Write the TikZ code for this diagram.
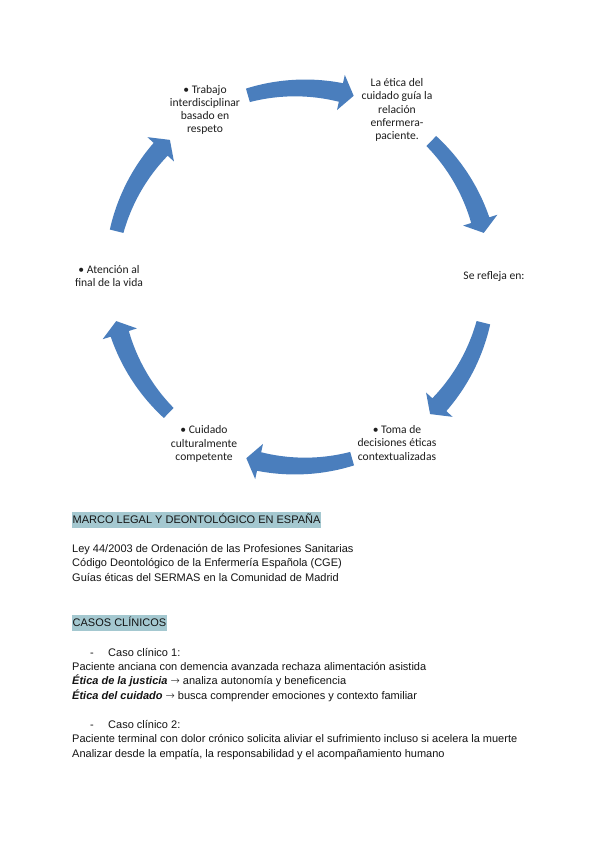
\documentclass[tikz,border=0pt]{standalone}
\usepackage{fontspec}
\setmainfont{Liberation Sans}
\newfontfamily\carlito{Carlito}
\newfontfamily\dejavu{DejaVu Sans ExtraLight}
\usetikzlibrary{calc}
\definecolor{arrowblue}{RGB}{74,126,189}
\definecolor{hl}{RGB}{164,200,208}
\definecolor{txt}{RGB}{20,20,20}
\definecolor{dtxt}{RGB}{30,30,30}
\newcommand{\rarr}{{\dejavu\fontsize{11}{13}\selectfont →}}
\begin{document}
\begin{tikzpicture}[x=1pt,y=1pt,
  lbl/.style={font=\carlito\fontsize{11.6}{13.2}\selectfont, align=center, text=dtxt, inner sep=0pt},
  body/.style={anchor=base west, inner sep=0pt, font=\fontsize{11}{13}\selectfont, text=txt},
  headline/.style={body, fill=hl, inner xsep=0.5pt, inner ysep=1.5pt, text height=10pt, text depth=2.5pt},
  cyclearrow/.style={fill=arrowblue}]
\useasboundingbox (0,0) rectangle (600,848);
\fill[white] (0,0) rectangle (600,848);
\coordinate (C) at (300,571);

% curved block arrows of the cycle (shaft widens slightly toward the head)
\foreach \m in {90,30,-30,-90,-150,150} {
  \pgfmathsetmacro{\ta}{\m+16}
  \pgfmathsetmacro{\hb}{\m-12.5}
  \pgfmathsetmacro{\tp}{\m-16.5}
  \fill[cyclearrow]
     plot[domain=\ta:\hb, samples=25]
        ({300+(196+2.5*(\ta-\x)/28.5)*cos(\x)}, {571+(196+2.5*(\ta-\x)/28.5)*sin(\x)})
     -- ($(C)+(\hb:207)$) -- ($(C)+(\tp:189)$) -- ($(C)+(\hb:171)$)
     -- plot[domain=\hb:\ta, samples=25]
        ({300+(182-2.5*(\ta-\x)/28.5)*cos(\x)}, {571+(182-2.5*(\ta-\x)/28.5)*sin(\x)})
     -- cycle;
}

% cycle labels
\node[lbl] (trabajo) at (205,738) {• Trabajo\\interdisciplinar\\basado en\\respeto};
\node[lbl] (etica) at (397,738) {La ética del\\cuidado guía la\\relación\\enfermera-\\paciente.};
\node[lbl] (refleja) at (494,571) {Se refleja en:};
\node[lbl] (toma) at (397,405) {• Toma de\\decisiones éticas\\contextualizadas};
\node[lbl] (cuidado) at (204,404) {• Cuidado\\culturalmente\\competente};
\node[lbl] (atencion) at (109,572) {• Atención al\\final de la vida};

% text section
\node[headline] (h1) at (72,324) {MARCO LEGAL Y DEONTOLÓGICO EN ESPAÑA};
\node[body] (l1) at (72,295) {Ley 44/2003 de Ordenación de las Profesiones Sanitarias};
\node[body] (l2) at (72,281) {Código Deontológico de la Enfermería Española (CGE)};
\node[body] (l3) at (72,266) {Guías éticas del SERMAS en la Comunidad de Madrid};

\node[headline] (h2) at (72,221) {CASOS CLÍNICOS};
\node[body] (d1) at (90,191) {-};
\node[body] (c1) at (108,191) {Caso clínico 1:};
\node[body] (p1) at (72,177) {Paciente anciana con demencia avanzada rechaza alimentación asistida};
\node[body] (p2) at (72,163) {\textbf{\textit{Ética de la justicia}} \rarr{} analiza autonomía y beneficencia};
\node[body] (p3) at (72,148) {\textbf{\textit{Ética del cuidado}} \rarr{} busca comprender emociones y contexto familiar};
\node[body] (d2) at (90,119) {-};
\node[body] (c2) at (108,119) {Caso clínico 2:};
\node[body] (q1) at (72,105) {Paciente terminal con dolor crónico solicita aliviar el sufrimiento incluso si acelera la muerte};
\node[body] (q2) at (72,90) {Analizar desde la empatía, la responsabilidad y el acompañamiento humano};
\end{tikzpicture}
\end{document}
